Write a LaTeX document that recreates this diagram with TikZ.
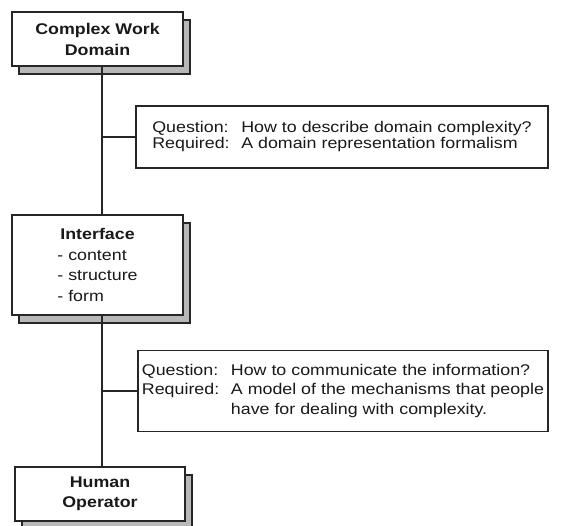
\documentclass[tikz,border=0pt]{standalone}
\usepackage{fontspec}
\setmainfont{Liberation Sans}[FakeStretch=1.15]
\usetikzlibrary{shadows}

\begin{document}
\begin{tikzpicture}[x=1pt,y=-1pt,
  txt/.style={text=black!90, font=\fontsize{15.5}{20}\selectfont},
  unitbox/.style={txt, draw=black!85, line width=1.6pt, fill=white,
    inner sep=0pt, align=center,
    drop shadow={shadow xshift=7pt, shadow yshift=-8pt, opacity=1,
      fill=black!28, draw=black!85, line width=1.6pt}},
  qbox/.style={txt, draw=black!85, line width=1.5pt, fill=white, inner sep=0pt},
  link/.style={draw=black!85, line width=1.6pt}]

  % page
  \fill[white] (0,0) rectangle (566,526);
  \useasboundingbox (0,0) rectangle (566,526);

  % main chain of units
  \node[unitbox, minimum width=171pt, minimum height=54pt,
        font=\fontsize{15.5}{21}\selectfont\bfseries] (cwd) at (97.5,39)
        {Complex Work\\Domain};
  \node[unitbox, minimum width=171pt, minimum height=100pt, align=left,
        font=\fontsize{15.5}{20.5}\selectfont] (ifc) at (97.5,265)
        {\hspace*{3pt}\textbf{Interface}\\- content\\- structure\\- form};
  \node[unitbox, minimum width=170pt, minimum height=54pt,
        font=\fontsize{15.5}{20}\selectfont\bfseries] (hum) at (100,494)
        {Human\\Operator};

  % question boxes
  \node[qbox, minimum width=412pt, minimum height=62pt,
        font=\fontsize{15.5}{16}\selectfont] (q1) at (342,137)
        {\begin{tabular}{@{}l@{}l@{}}
          \makebox[89pt][l]{Question:} & How to describe domain complexity?\\
          \makebox[89pt][l]{Required:} & A domain representation formalism
         \end{tabular}};
  \node[qbox, minimum width=410pt, minimum height=81pt,
        font=\fontsize{15.5}{19.5}\selectfont] (q2) at (343,391)
        {\begin{tabular}{@{}l@{}l@{}}
          \makebox[89pt][l]{Question:} & How to communicate the information?\\
          \makebox[89pt][l]{Required:} & A model of the mechanisms that people\\
           & have for dealing with complexity.
         \end{tabular}};

  % spine and branches
  \coordinate (spine) at (102,0);
  \draw[link] (cwd.south -| spine) -- (ifc.north -| spine);
  \draw[link] (ifc.south -| spine) -- (hum.north -| spine);
  \draw[link] (q1.west -| spine) -- (q1.west);
  \draw[link] (q2.west -| spine) -- (q2.west);
\end{tikzpicture}
\end{document}
